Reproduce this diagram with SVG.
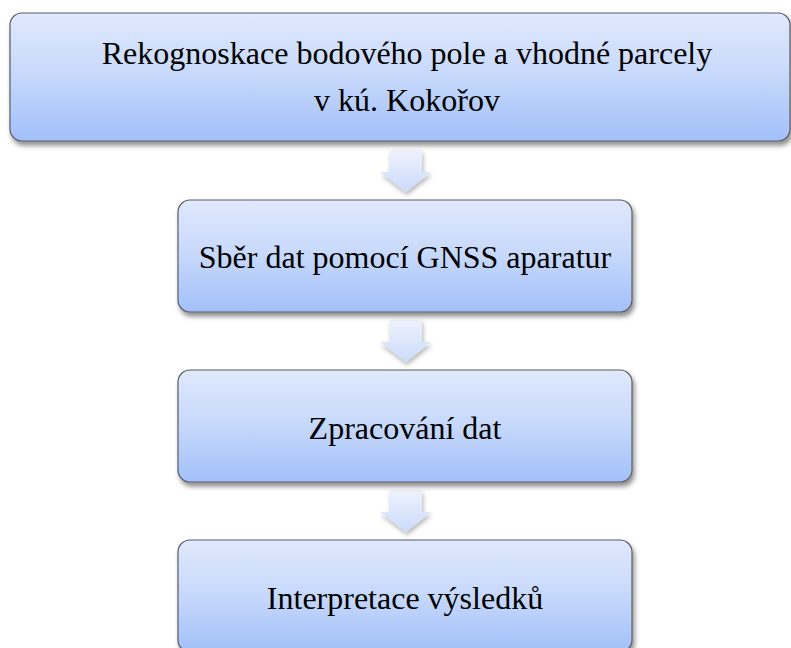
<svg xmlns="http://www.w3.org/2000/svg" width="791" height="648" viewBox="0 0 791 648">
<style>
.box{fill:url(#g);stroke:#5a5d66;stroke-width:1.2;filter:url(#sh)}
.arr{fill:url(#ga);filter:url(#sh2)}
.t{font-family:'Liberation Serif','DejaVu Serif',serif;font-size:32px;fill:#000;text-anchor:middle}
</style>
<defs>
<linearGradient id="g" x1="0" y1="0" x2="0" y2="1">
<stop offset="0" stop-color="#e0e9fc"/>
<stop offset="0.5" stop-color="#c6d8fb"/>
<stop offset="1" stop-color="#a2c0fa"/>
</linearGradient>
<linearGradient id="ga" x1="0" y1="0" x2="0" y2="1">
<stop offset="0" stop-color="#eef2fd"/>
<stop offset="1" stop-color="#cbdbfb"/>
</linearGradient>
<filter id="sh" x="-5%" y="-10%" width="110%" height="130%">
<feGaussianBlur in="SourceAlpha" stdDeviation="2.5"/>
<feOffset dx="2" dy="4" result="b"/>
<feComponentTransfer><feFuncA type="linear" slope="0.45"/></feComponentTransfer>
<feMerge><feMergeNode/><feMergeNode in="SourceGraphic"/></feMerge>
</filter>
<filter id="sh2" x="-30%" y="-30%" width="160%" height="160%">
<feGaussianBlur in="SourceAlpha" stdDeviation="2.5"/>
<feOffset dx="1" dy="3" result="b"/>
<feComponentTransfer><feFuncA type="linear" slope="0.3"/></feComponentTransfer>
<feMerge><feMergeNode/><feMergeNode in="SourceGraphic"/></feMerge>
</filter>
</defs>
<g id="connectors">
<path class="arr" d="M390 150 H422 V172 H431 L406 192 L380 172 H390 Z"/>
<path class="arr" d="M390 320 H422 V342 H431 L406 362 L380 342 H390 Z"/>
<path class="arr" d="M390 490 H422 V512 H431 L406 532 L380 512 H390 Z"/>
</g>
<g id="node1">
<rect class="box" x="10" y="13" width="780" height="128" rx="12"/>
<text class="t" x="407" y="64">Rekognoskace bodového pole a vhodné parcely</text>
<text class="t" x="407" y="111">v kú. Kokořov</text>
</g>
<g id="node2">
<rect class="box" x="178" y="200" width="454" height="112" rx="12"/>
<text class="t" x="405" y="268">Sběr dat pomocí GNSS aparatur</text>
</g>
<g id="node3">
<rect class="box" x="178" y="370" width="454" height="112" rx="12"/>
<text class="t" x="405" y="439">Zpracování dat</text>
</g>
<g id="node4">
<rect class="box" x="178" y="540" width="454" height="112" rx="12"/>
<text class="t" x="405" y="609">Interpretace výsledků</text>
</g>
</svg>
